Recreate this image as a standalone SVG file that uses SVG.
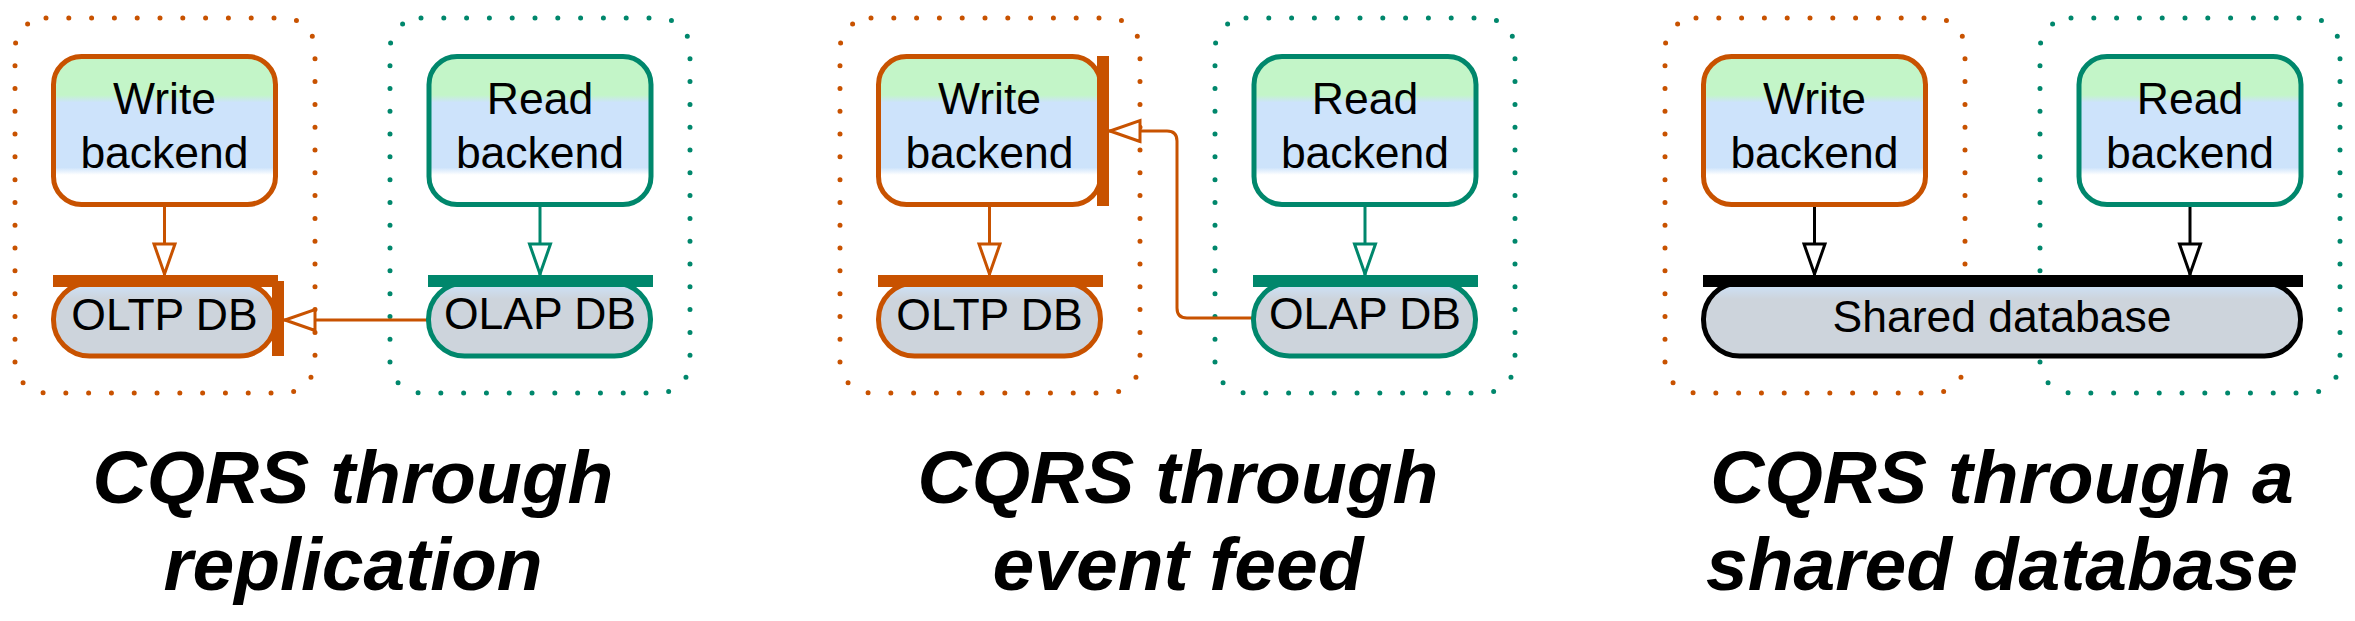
<svg xmlns="http://www.w3.org/2000/svg" width="2355" height="621" viewBox="0 0 2355 621">
<style>
.clu{fill:none;stroke-width:5;stroke-linecap:round;stroke-dasharray:0 22.8}
.co{stroke:#c85200}
.ct{stroke:#00876c}
.node{fill:url(#nodeFill);stroke-width:5}
.db{fill:url(#dbFill);stroke-width:5}
.lbl{font-family:"Liberation Sans",Arial,sans-serif;font-size:44.5px;text-anchor:middle;fill:#000}
.title{font-family:"Liberation Sans",Arial,sans-serif;font-size:75px;font-weight:bold;font-style:italic;text-anchor:middle;fill:#000}
.edge{fill:none;stroke-width:3}
.bo{fill:#c85200}
.bt{fill:#00876c}
.bk{fill:#000}
</style>
<defs>
<linearGradient id="nodeFill" x1="0" y1="0" x2="0" y2="1">
<stop offset="0" stop-color="#c3f5c8"/>
<stop offset="0.26" stop-color="#c3f5c8"/>
<stop offset="0.31" stop-color="#cde3fb"/>
<stop offset="0.75" stop-color="#cde3fb"/>
<stop offset="0.80" stop-color="#ffffff"/>
<stop offset="1" stop-color="#ffffff"/>
</linearGradient>
<linearGradient id="dbFill" x1="0" y1="0" x2="0" y2="1">
<stop offset="0" stop-color="#cde3fb"/>
<stop offset="0.22" stop-color="#cdd4dc"/>
<stop offset="1" stop-color="#cdd4dc"/>
</linearGradient>
<marker id="ahO" markerUnits="userSpaceOnUse" viewBox="-3 -14 37 28" markerWidth="37" markerHeight="28" refX="31" refY="0" orient="auto">
<path d="M0,-10.5 L30,0 L0,10.5 Z" fill="#fff" stroke="#c85200" stroke-width="3"/>
</marker>
<marker id="ahT" markerUnits="userSpaceOnUse" viewBox="-3 -14 37 28" markerWidth="37" markerHeight="28" refX="31" refY="0" orient="auto">
<path d="M0,-10.5 L30,0 L0,10.5 Z" fill="#fff" stroke="#00876c" stroke-width="3"/>
</marker>
<marker id="ahK" markerUnits="userSpaceOnUse" viewBox="-3 -14 37 28" markerWidth="37" markerHeight="28" refX="31" refY="0" orient="auto">
<path d="M0,-10.5 L30,0 L0,10.5 Z" fill="#fff" stroke="#000" stroke-width="3"/>
</marker>
</defs>
<rect width="2355" height="621" fill="#fff"/>

<!-- Panel 1: replication -->
<g id="panel-replication">
<g id="cluster-write-1"><rect class="clu co" x="15" y="18" width="300" height="375" rx="31"/></g>
<g id="cluster-read-1"><rect class="clu ct" x="390" y="18" width="300" height="375" rx="31"/></g>
<g id="connectors-1">
<line class="edge co" x1="164.5" y1="207" x2="164.5" y2="275" marker-end="url(#ahO)"/>
<line class="edge ct" x1="540" y1="207" x2="540" y2="275" marker-end="url(#ahT)"/>
<line class="edge co" x1="428" y1="320" x2="284" y2="320" marker-end="url(#ahO)"/>
</g>
<g id="write-backend-1">
<rect class="node co" x="53.5" y="56.5" width="222" height="148" rx="28"/>
<text class="lbl" x="164.5" y="114">Write</text>
<text class="lbl" x="164.5" y="168">backend</text>
</g>
<g id="read-backend-1">
<rect class="node ct" x="429" y="56.5" width="222" height="148" rx="28"/>
<text class="lbl" x="540" y="114">Read</text>
<text class="lbl" x="540" y="168">backend</text>
</g>
<g id="oltp-db-1">
<rect class="db co" x="53.5" y="283" width="222" height="73" rx="36"/>
<rect class="bo" x="53" y="275" width="225" height="12"/>
<rect class="bo" x="272" y="281" width="12" height="75"/>
<text class="lbl" x="164.5" y="330">OLTP DB</text>
</g>
<g id="olap-db-1">
<rect class="db ct" x="428.5" y="283" width="222" height="73" rx="36"/>
<rect class="bt" x="428" y="275" width="225" height="12"/>
<text class="lbl" x="540" y="329">OLAP DB</text>
</g>
<g id="title-1">
<text class="title" x="353" y="503">CQRS through</text>
<text class="title" x="353" y="590">replication</text>
</g>
</g>

<!-- Panel 2: event feed -->
<g id="panel-event-feed" transform="translate(825,0)">
<g id="cluster-write-2"><rect class="clu co" x="15" y="18" width="300" height="375" rx="31"/></g>
<g id="cluster-read-2"><rect class="clu ct" x="390" y="18" width="300" height="375" rx="31"/></g>
<g id="connectors-2">
<line class="edge co" x1="164.5" y1="207" x2="164.5" y2="275" marker-end="url(#ahO)"/>
<line class="edge ct" x1="540" y1="207" x2="540" y2="275" marker-end="url(#ahT)"/>
<path class="edge co" d="M428,318 H362 Q352,318 352,308 V141 Q352,131 342,131 H284" marker-end="url(#ahO)"/>
</g>
<g id="write-backend-2">
<rect class="node co" x="53.5" y="56.5" width="222" height="148" rx="28"/>
<rect class="bo" x="272" y="56" width="12" height="150"/>
<text class="lbl" x="164.5" y="114">Write</text>
<text class="lbl" x="164.5" y="168">backend</text>
</g>
<g id="read-backend-2">
<rect class="node ct" x="429" y="56.5" width="222" height="148" rx="28"/>
<text class="lbl" x="540" y="114">Read</text>
<text class="lbl" x="540" y="168">backend</text>
</g>
<g id="oltp-db-2">
<rect class="db co" x="53.5" y="283" width="222" height="73" rx="36"/>
<rect class="bo" x="53" y="275" width="225" height="12"/>
<text class="lbl" x="164.5" y="330">OLTP DB</text>
</g>
<g id="olap-db-2">
<rect class="db ct" x="428.5" y="283" width="222" height="73" rx="36"/>
<rect class="bt" x="428" y="275" width="225" height="12"/>
<text class="lbl" x="540" y="329">OLAP DB</text>
</g>
<g id="title-2">
<text class="title" x="353" y="503">CQRS through</text>
<text class="title" x="353" y="590">event feed</text>
</g>
</g>

<!-- Panel 3: shared database -->
<g id="panel-shared" transform="translate(1650,0)">
<g id="cluster-write-3"><rect class="clu co" x="15" y="18" width="300" height="375" rx="31"/></g>
<g id="cluster-read-3"><rect class="clu ct" x="390" y="18" width="300" height="375" rx="31"/></g>
<g id="connectors-3">
<line class="edge" stroke="#000" x1="164.5" y1="207" x2="164.5" y2="275" marker-end="url(#ahK)"/>
<line class="edge" stroke="#000" x1="540" y1="207" x2="540" y2="275" marker-end="url(#ahK)"/>
</g>
<g id="write-backend-3">
<rect class="node co" x="53.5" y="56.5" width="222" height="148" rx="28"/>
<text class="lbl" x="164.5" y="114">Write</text>
<text class="lbl" x="164.5" y="168">backend</text>
</g>
<g id="read-backend-3">
<rect class="node ct" x="429" y="56.5" width="222" height="148" rx="28"/>
<text class="lbl" x="540" y="114">Read</text>
<text class="lbl" x="540" y="168">backend</text>
</g>
<g id="shared-db-3">
<rect class="db" stroke="#000" x="53.5" y="283" width="597" height="73" rx="36"/>
<rect class="bk" x="53" y="275" width="600" height="12"/>
<text class="lbl" x="352" y="332">Shared database</text>
</g>
<g id="title-3">
<text class="title" x="352" y="503">CQRS through a</text>
<text class="title" x="352" y="590">shared database</text>
</g>
</g>
</svg>
